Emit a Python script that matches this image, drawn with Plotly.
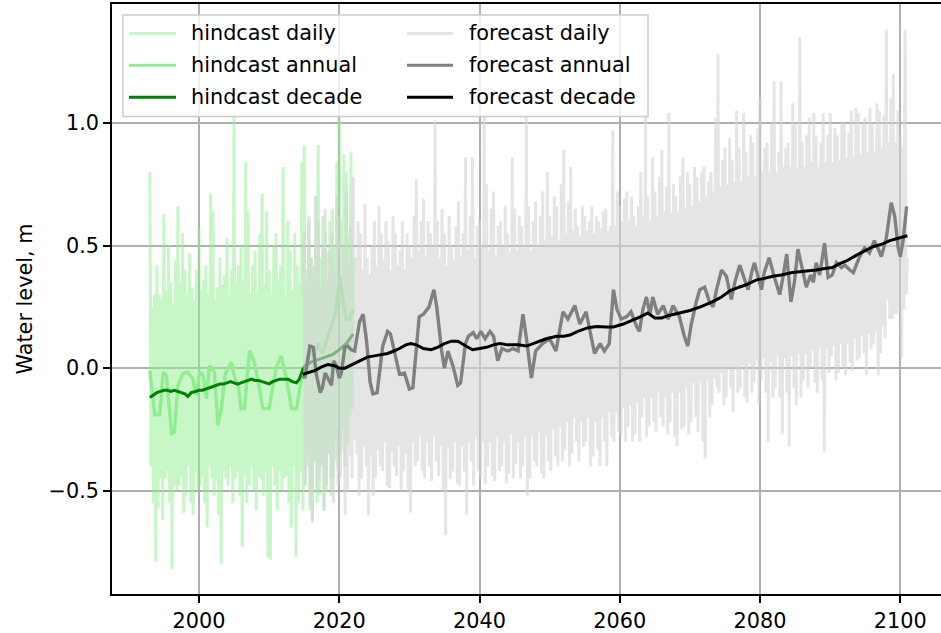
import numpy as np
import plotly.graph_objects as go

# ---------------- data ----------------
# daily series: high / low excursions, 6 samples per year
hind_daily_start = 1993.0
hind_daily = [
    0.80, -0.40, 0.25, -0.55, 0.30, -0.79,   # 1993
    0.42, -0.57, 0.30, -0.45, 0.28, -0.62,   # 1994
    0.63, -0.45, 0.32, -0.42, 0.50, -0.55,   # 1995
    0.35, -0.82, 0.26, -0.48, 0.44, -0.50,   # 1996
    0.66, -0.48, 0.35, -0.44, 0.55, -0.59,   # 1997
    0.40, -0.52, 0.30, -0.40, 0.47, -0.55,   # 1998
    0.33, -0.60, 0.28, -0.42, 0.40, -0.50,   # 1999
    0.57, -0.48, 0.32, -0.44, 0.36, -0.55,   # 2000
    0.42, -0.65, 0.30, -0.40, 0.71, -0.45,   # 2001
    0.64, -0.52, 0.28, -0.46, 0.33, -0.60,   # 2002
    0.45, -0.80, 0.34, -0.42, 0.38, -0.45,   # 2003
    0.53, -0.48, 0.30, -0.40, 0.40, -0.55,   # 2004
    1.05, -0.45, 0.35, -0.42, 0.42, -0.52,   # 2005
    0.50, -0.73, 0.36, -0.44, 0.84, -0.55,   # 2006
    0.64, -0.48, 0.30, -0.40, 0.42, -0.50,   # 2007
    0.48, -0.58, 0.32, -0.44, 0.55, -0.45,   # 2008
    0.71, -0.52, 0.34, -0.42, 0.64, -0.77,   # 2009
    0.40, -0.78, 0.30, -0.40, 0.50, -0.48,   # 2010
    0.55, -0.58, 0.36, -0.42, 0.42, -0.50,   # 2011
    0.82, -0.45, 0.30, -0.44, 0.60, -0.55,   # 2012
    0.48, -0.65, 0.32, -0.40, 0.55, -0.77,   # 2013
    0.42, -0.55, 0.35, -0.42, 0.84, -0.58,   # 2014
    0.91, -0.48, 0.40, -0.40, 0.60, -0.58,   # 2015
    0.45, -0.62, 0.42, -0.38, 0.70, -0.55,   # 2016
    0.91, -0.52, 0.45, -0.40, 0.62, -0.58,   # 2017
    0.55, -0.48, 0.48, -0.35, 0.60, -0.52,   # 2018
    0.65, -0.45, 0.50, -0.30, 0.84, -0.42,   # 2019
    1.02, -0.35, 0.60, -0.25, 0.87, -0.40,   # 2020
    0.80, -0.31, 0.55, -0.20, 0.88, -0.17,   # 2021
    0.45,                                    # 2022
]

fore_daily_end = 2101.0
fore_daily = [
    0.30,
    0.55, -0.48, 0.35, -0.35, 0.62, -0.55,   # 2015
    0.45, -0.63, 0.38, -0.38, 0.70, -0.50,   # 2016
    0.60, -0.45, 0.33, -0.40, 0.50, -0.58,   # 2017
    0.65, -0.50, 0.36, -0.35, 0.48, -0.45,   # 2018
    0.55, -0.55, 0.40, -0.38, 0.70, -0.48,   # 2019
    0.62, -0.45, 0.38, -0.34, 0.50, -0.60,   # 2020
    0.72, -0.50, 0.42, -0.36, 0.58, -0.45,   # 2021
    0.78, -0.29, 0.45, -0.35, 0.60, -0.52,   # 2022
    0.55, -0.45, 0.40, -0.32, 0.67, -0.40,   # 2023
    0.45, -0.60, 0.38, -0.36, 0.50, -0.52,   # 2024
    0.60, -0.45, 0.42, -0.33, 0.66, -0.40,   # 2025
    0.55, -0.42, 0.44, -0.30, 0.60, -0.48,   # 2026
    0.52, -0.49, 0.40, -0.34, 0.62, -0.40,   # 2027
    0.55, -0.44, 0.42, -0.32, 0.48, -0.50,   # 2028
    0.60, -0.42, 0.40, -0.35, 0.55, -0.50,   # 2029
    0.50, -0.59, 0.45, -0.30, 0.62, -0.40,   # 2030
    0.77, -0.38, 0.48, -0.28, 0.60, -0.42,   # 2031
    0.69, -0.45, 0.46, -0.30, 0.60, -0.40,   # 2032
    0.55, -0.46, 0.50, -0.28, 1.01, -0.38,   # 2033
    0.60, -0.44, 0.45, -0.32, 0.65, -0.50,   # 2034
    0.55, -0.68, 0.42, -0.33, 0.62, -0.45,   # 2035
    0.50, -0.42, 0.44, -0.30, 0.58, -0.47,   # 2036
    0.68, -0.48, 0.46, -0.32, 0.55, -0.42,   # 2037
    0.86, -0.60, 0.48, -0.30, 0.62, -0.38,   # 2038
    0.86, -0.48, 0.45, -0.28, 0.58, -0.42,   # 2039
    0.60, -0.45, 0.50, -0.30, 1.03, -0.47,   # 2040
    0.75, -0.40, 0.48, -0.30, 0.65, -0.44,   # 2041
    0.72, -0.46, 0.46, -0.28, 0.58, -0.42,   # 2042
    0.60, -0.40, 0.50, -0.30, 0.66, -0.47,   # 2043
    0.55, -0.43, 0.47, -0.27, 0.86, -0.45,   # 2044
    0.65, -0.39, 0.48, -0.30, 0.62, -0.45,   # 2045
    0.58, -0.40, 0.50, -0.28, 1.03, -0.52,   # 2046
    0.66, -0.45, 0.48, -0.28, 0.60, -0.38,   # 2047
    0.68, -0.40, 0.50, -0.26, 0.62, -0.43,   # 2048
    0.72, -0.45, 0.52, -0.28, 0.80, -0.38,   # 2049
    0.62, -0.42, 0.54, -0.25, 0.70, -0.36,   # 2050
    0.66, -0.40, 0.52, -0.24, 0.75, -0.38,   # 2051
    0.89, -0.33, 0.55, -0.22, 0.68, -0.40,   # 2052
    0.82, -0.35, 0.56, -0.20, 0.65, -0.30,   # 2053
    0.58, -0.38, 0.54, -0.22, 0.66, -0.32,   # 2054
    0.62, -0.30, 0.56, -0.20, 0.60, -0.40,   # 2055
    0.66, -0.36, 0.55, -0.22, 0.62, -0.33,   # 2056
    0.60, -0.40, 0.57, -0.20, 0.64, -0.30,   # 2057
    0.65, -0.40, 0.56, -0.18, 0.58, -0.28,   # 2058
    0.97, -0.30, 0.58, -0.18, 0.72, -0.26,   # 2059
    0.66, -0.28, 0.60, -0.16, 0.69, -0.30,   # 2060
    0.72, -0.24, 0.60, -0.15, 0.70, -0.30,   # 2061
    0.62, -0.27, 0.58, -0.14, 0.66, -0.30,   # 2062
    0.80, -0.20, 0.62, -0.12, 1.03, -0.28,   # 2063
    0.70, -0.24, 0.60, -0.12, 0.86, -0.22,   # 2064
    0.72, -0.26, 0.62, -0.10, 0.78, -0.20,   # 2065
    0.89, -0.24, 0.64, -0.12, 0.74, -0.27,   # 2066
    1.04, -0.22, 0.63, -0.10, 0.75, -0.28,   # 2067
    0.70, -0.32, 0.64, -0.10, 0.78, -0.25,   # 2068
    0.86, -0.24, 0.65, -0.08, 0.80, -0.27,   # 2069
    0.75, -0.22, 0.66, -0.06, 0.82, -0.20,   # 2070
    0.78, -0.26, 0.68, -0.06, 0.80, -0.30,   # 2071
    0.82, -0.37, 0.70, -0.05, 0.76, -0.20,   # 2072
    0.80, -0.15, 0.72, -0.04, 1.02, -0.08,   # 2073
    1.28, -0.10, 0.74, -0.02, 0.85, -0.15,   # 2074
    0.90, -0.12, 0.75, 0.00, 0.94, -0.08,    # 2075
    0.85, -0.18, 0.76, 0.00, 1.05, -0.10,    # 2076
    0.90, -0.08, 0.76, 0.01, 1.04, -0.12,    # 2077
    0.88, -0.14, 0.78, 0.02, 0.95, -0.10,    # 2078
    0.92, -0.06, 0.78, 0.03, 0.98, -0.15,    # 2079
    1.10, -0.05, 0.80, 0.04, 0.90, -0.10,    # 2080
    0.92, -0.30, 0.80, 0.03, 1.00, -0.12,    # 2081
    1.17, -0.08, 0.80, 0.05, 0.88, -0.12,    # 2082
    1.17, -0.27, 0.82, 0.04, 0.90, -0.10,    # 2083
    0.92, -0.32, 0.82, 0.05, 1.08, -0.08,    # 2084
    1.00, -0.15, 0.82, 0.06, 1.35, -0.12,    # 2085
    0.92, -0.05, 0.82, 0.06, 0.95, -0.08,    # 2086
    1.02, 0.00, 0.84, 0.07, 1.04, -0.06,     # 2087
    0.95, -0.10, 0.82, 0.08, 0.92, -0.05,    # 2088
    1.04, -0.34, 0.84, 0.08, 0.95, -0.02,    # 2089
    1.04, 0.05, 0.84, 0.09, 0.98, -0.05,     # 2090
    0.95, -0.02, 0.85, 0.10, 1.00, 0.00,     # 2091
    1.00, -0.03, 0.86, 0.10, 0.96, 0.02,     # 2092
    1.05, -0.01, 0.86, 0.12, 1.06, 0.03,     # 2093
    1.04, 0.04, 0.87, 0.13, 1.00, 0.06,      # 2094
    1.02, -0.03, 0.88, 0.14, 1.06, 0.08,     # 2095
    1.00, 0.10, 0.88, 0.15, 1.08, -0.03,     # 2096
    1.05, 0.06, 0.90, 0.17, 1.03, 0.12,      # 2097
    1.38, 0.28, 0.92, 0.20, 1.10, 0.20,      # 2098
    1.20, 0.22, 0.92, 0.22, 1.05, 0.25,      # 2099
    0.95, 0.04, 0.90, 0.24, 1.38, 0.30,      # 2100
    0.45,                                    # 2101
]

hind_annual_t = [1993.0, 1993.45, 1993.7, 1994.4, 1994.9, 1995.35, 1995.8, 1996.1, 1996.5,
                 1997.0, 1997.7, 1998.4, 1999.1, 1999.6, 2000.1, 2000.6, 2001.05, 2001.5,
                 2002.2, 2002.7, 2003.2, 2003.7, 2004.1, 2004.6, 2005.1, 2005.6, 2006.0,
                 2006.5, 2007.2, 2007.9, 2008.6, 2009.1, 2010.0, 2010.55, 2011.0, 2011.7,
                 2012.5, 2013.2, 2013.9, 2014.6, 2015.2, 2015.8, 2016.4, 2017.0, 2017.6,
                 2018.3, 2018.9, 2019.4, 2019.8, 2020.1, 2020.5, 2021.0, 2021.5, 2022.0]
hind_annual = [-0.01, -0.11, -0.19, -0.19, -0.016, -0.03, -0.165, -0.267, -0.26,
               -0.07, -0.023, -0.016, -0.043, -0.11, -0.016, -0.03, -0.125, 0.01,
               -0.016, -0.233, -0.165, -0.03, -0.003, 0.024, -0.04, -0.07, -0.165,
               -0.165, 0.072, 0.024, -0.08, -0.165, -0.165, -0.08, 0.0, 0.05,
               -0.044, -0.165, -0.165, -0.044, 0.02, 0.08, 0.05, 0.10, 0.06,
               0.12, 0.18, 0.22, 0.30, 0.37, 0.28, 0.20, 0.20, 0.24]

hind_decade_t = [1993.0, 1993.5, 1994.0, 1994.5, 1995.0, 1995.5, 1996.0, 1996.5, 1997.0,
                 1997.5, 1998.0, 1998.4, 1998.9, 1999.5, 2000.0, 2000.5, 2001.0, 2001.5,
                 2002.0, 2002.5, 2003.0, 2003.5, 2004.0, 2004.5, 2005.0, 2005.5, 2006.0,
                 2006.5, 2007.0, 2007.5, 2008.0, 2008.5, 2009.0, 2009.5, 2010.0, 2010.5,
                 2011.0, 2011.5, 2012.0, 2012.7, 2013.3, 2013.9, 2014.3, 2014.6, 2014.8,
                 2015.2, 2016.0, 2017.0, 2018.0, 2019.0, 2020.0, 2021.0, 2022.0]
hind_decade = [-0.12, -0.11, -0.10, -0.095, -0.09, -0.09, -0.095, -0.09, -0.095,
               -0.10, -0.105, -0.115, -0.10, -0.095, -0.09, -0.09, -0.085, -0.08,
               -0.075, -0.07, -0.065, -0.065, -0.06, -0.055, -0.06, -0.065, -0.06,
               -0.055, -0.05, -0.045, -0.05, -0.05, -0.055, -0.06, -0.064, -0.055,
               -0.05, -0.045, -0.045, -0.045, -0.055, -0.06, -0.045, -0.02, -0.005,
               0.01, 0.025, 0.035, 0.045, 0.055, 0.075, 0.10, 0.14]

fore_annual_t = [2014.8, 2015.1, 2015.5, 2015.8, 2016.3, 2016.7, 2017.3, 2017.6, 2018.0,
                 2018.4, 2018.9, 2019.2, 2019.6, 2020.0, 2020.3, 2020.8, 2021.2, 2021.7,
                 2022.2, 2022.9, 2023.4, 2023.9, 2024.4, 2024.8, 2025.4, 2026.2, 2026.9,
                 2027.3, 2027.8, 2028.6, 2029.3, 2030.0, 2030.5, 2031.4, 2032.0, 2032.8,
                 2033.5, 2033.9, 2034.6, 2035.0, 2035.5, 2036.2, 2036.9, 2037.3, 2038.0,
                 2038.4, 2039.1, 2039.6, 2040.2, 2040.8, 2041.5, 2042.0, 2042.6, 2043.2,
                 2044.0, 2044.8, 2045.5, 2046.2, 2046.7, 2047.4, 2048.0, 2049.0, 2050.0,
                 2050.9, 2051.9, 2052.6, 2053.6, 2054.3, 2055.2, 2055.8, 2056.4, 2057.2,
                 2057.8, 2058.5, 2059.1, 2059.6, 2060.2, 2061.0, 2061.6, 2062.4, 2062.8,
                 2063.3, 2063.8, 2064.3, 2064.7, 2065.4, 2066.2, 2066.9, 2067.6, 2068.5,
                 2069.2, 2069.7, 2070.2, 2070.9, 2071.4, 2072.1, 2072.8, 2073.3, 2073.8,
                 2074.5, 2075.2, 2075.9, 2076.4, 2077.1, 2077.8, 2078.3, 2078.8, 2079.2,
                 2079.7, 2080.2, 2080.6, 2081.3, 2082.0, 2082.8, 2083.2, 2083.8, 2084.4,
                 2084.9, 2085.4, 2085.9,
                 2086.6, 2087.2, 2087.6, 2088.0, 2088.5, 2089.2, 2089.7, 2090.3, 2090.9,
                 2091.6, 2092.1, 2092.8, 2093.3, 2094.2, 2094.9, 2095.6, 2096.3, 2096.8,
                 2097.3, 2098.0, 2098.7, 2099.2, 2099.7, 2100.0, 2100.4, 2100.9]
fore_annual = [-0.03, -0.04, 0.03, 0.09, 0.085, -0.02, -0.10, -0.08, -0.02,
               -0.04, -0.07, 0.03, 0.01, -0.04, -0.02, 0.085, 0.09, 0.075,
               0.07, 0.19, 0.22, 0.11, -0.056, -0.105, -0.10, 0.09, 0.15,
               0.14, 0.07, -0.025, -0.02, -0.085, -0.08, 0.21, 0.22, 0.25,
               0.32, 0.25, 0.07, 0.0, 0.07, 0.01, -0.07, -0.06, 0.10,
               0.13, 0.145, 0.12, 0.15, 0.12, 0.15, 0.13, 0.03, 0.08,
               0.07, 0.08, 0.07, 0.22, 0.12, -0.04, 0.07, 0.10, 0.12,
               0.07, 0.23, 0.20, 0.255, 0.18, 0.23, 0.14, 0.06, 0.10,
               0.07, 0.10, 0.32, 0.24, 0.20, 0.21, 0.23, 0.17, 0.15,
               0.24, 0.29, 0.22, 0.29, 0.22, 0.255, 0.20, 0.255, 0.21,
               0.13, 0.09, 0.18, 0.27, 0.32, 0.33, 0.27, 0.25, 0.32,
               0.40, 0.375, 0.28, 0.35, 0.42, 0.36, 0.32, 0.39, 0.43,
               0.375, 0.32, 0.39, 0.45, 0.375, 0.30, 0.36, 0.465, 0.27,
               0.35, 0.485, 0.42,
               0.33, 0.38, 0.35, 0.43, 0.38, 0.51, 0.37, 0.38, 0.43,
               0.41, 0.42, 0.40, 0.39, 0.455, 0.49, 0.47, 0.52, 0.49,
               0.455, 0.53, 0.675, 0.62, 0.49, 0.455, 0.52, 0.66]

fore_decade_t = [2014.8, 2015.5, 2016.5, 2017.5, 2018.4, 2019.3, 2020.0, 2020.8, 2021.5,
                 2022.2, 2023.0, 2024.0, 2025.0, 2026.0, 2026.9, 2027.8, 2028.6, 2029.5,
                 2030.2, 2031.0, 2032.0, 2033.1, 2034.0, 2035.0, 2036.0, 2036.9, 2038.0,
                 2039.0, 2040.0, 2041.0, 2042.0, 2042.9, 2044.0, 2045.5, 2046.7, 2048.0,
                 2049.5, 2051.0, 2052.0, 2052.9, 2054.0, 2055.5, 2056.7, 2058.0, 2059.1,
                 2060.5, 2061.9, 2063.0, 2064.0, 2065.0, 2066.0, 2067.0, 2068.5, 2070.0,
                 2071.5, 2073.2, 2074.5, 2075.7, 2077.0, 2078.0, 2079.5, 2080.5, 2081.8,
                 2083.0, 2084.6, 2086.6, 2088.0, 2089.0, 2090.3, 2091.3, 2092.5, 2093.7,
                 2095.0, 2096.1, 2097.3, 2098.5, 2099.7, 2101.0]
fore_decade = [-0.025, -0.02, -0.01, 0.005, 0.015, 0.01, 0.0, 0.0, 0.01,
               0.02, 0.03, 0.045, 0.05, 0.055, 0.06, 0.07, 0.08, 0.095,
               0.10, 0.095, 0.08, 0.075, 0.085, 0.10, 0.11, 0.11, 0.09,
               0.075, 0.08, 0.085, 0.095, 0.10, 0.095, 0.095, 0.09, 0.105,
               0.12, 0.13, 0.13, 0.135, 0.15, 0.165, 0.17, 0.168, 0.168,
               0.18, 0.195, 0.21, 0.225, 0.205, 0.205, 0.215, 0.225, 0.235,
               0.25, 0.27, 0.29, 0.315, 0.33, 0.34, 0.36, 0.365, 0.375,
               0.38, 0.39, 0.395, 0.40, 0.405, 0.41, 0.425, 0.44, 0.46,
               0.48, 0.495, 0.505, 0.52, 0.53, 0.54]

x_ticks = [2000, 2020, 2040, 2060, 2080, 2100]
y_ticks = [-0.5, 0.0, 0.5, 1.0]
y_title = "Water level, m"

# ---------------- styling ----------------
C_HD = "rgba(144,238,144,0.5)"   # hindcast daily
C_HA = "#90ee90"                 # hindcast annual
C_HDEC = "#008000"               # hindcast decade
C_FD = "rgba(211,211,211,0.6)"   # forecast daily
C_FA = "#808080"                 # forecast annual
C_FDEC = "#000000"               # forecast decade
FONT = "DejaVu Sans"
FS = 20.8
W, H = 941, 633
ML, MR, MT, MB = 112, 0, 4, 37
PW, PH = W - ML - MR, H - MT - MB

step = 1.0 / 6.0
hind_daily_t = hind_daily_start + step * np.arange(len(hind_daily))
fore_daily_t = fore_daily_end - step * np.arange(len(fore_daily))[::-1]

fig = go.Figure()
series = [
    ("hindcast daily", hind_daily_t, hind_daily, C_HD, 3),
    ("hindcast annual", hind_annual_t, hind_annual, C_HA, 3.4),
    ("hindcast decade", hind_decade_t, hind_decade, C_HDEC, 3),
    ("forecast daily", fore_daily_t, fore_daily, C_FD, 3),
    ("forecast annual", fore_annual_t, fore_annual, C_FA, 3.4),
    ("forecast decade", fore_decade_t, fore_decade, C_FDEC, 3),
]
for name, xs, ys, col, lw in series:
    fig.add_trace(go.Scatter(x=list(xs), y=ys, mode="lines", name=name,
                             line=dict(color=col, width=lw), showlegend=False,
                             hoverinfo="skip"))

# ---------------- legend (drawn as box + handles + text) ----------------
def px_x(p):
    return (p - ML) / PW

def px_y(p):
    return (H - MB - p) / PH

shapes = [dict(type="rect", xref="paper", yref="paper", layer="above",
               x0=px_x(123), x1=px_x(648), y0=px_y(117), y1=px_y(15),
               fillcolor="rgba(255,255,255,0.8)", line=dict(color="#cccccc", width=1.5))]
annotations = []
rows_y = [33.5, 65.5, 97.5]
cols = [(129, 176, 189), (407, 453, 467)]
legend_layout = [
    [series[0], series[1], series[2]],
    [series[3], series[4], series[5]],
]
for ci, col_items in enumerate(legend_layout):
    hx0, hx1, tx = cols[ci]
    for ri, (name, _, _, col, _) in enumerate(col_items):
        yy = px_y(rows_y[ri])
        shapes.append(dict(type="line", xref="paper", yref="paper", layer="above",
                           x0=px_x(hx0), x1=px_x(hx1), y0=yy, y1=yy,
                           line=dict(color=col, width=3)))
        annotations.append(dict(text=name, xref="paper", yref="paper",
                                x=px_x(tx), y=yy, xanchor="left", yanchor="middle",
                                showarrow=False, font=dict(family=FONT, size=FS, color="black")))

fig.update_layout(
    width=W, height=H,
    margin=dict(l=ML, r=MR, t=MT, b=MB, pad=0),
    paper_bgcolor="white", plot_bgcolor="white",
    font=dict(family=FONT, size=FS, color="black"),
    shapes=shapes, annotations=annotations,
    showlegend=False,
)
fig.update_xaxes(range=[1987.6, 2105.8], tickvals=x_ticks, ticks="outside", ticklen=7,
                 tickwidth=1.6, tickcolor="black", showgrid=True, gridcolor="#b0b0b0",
                 gridwidth=1.6, showline=True, linecolor="black", linewidth=1.6,
                 mirror=True, zeroline=False, tickfont=dict(family=FONT, size=FS, color="black"))
fig.update_yaxes(range=[-0.921, 1.485], tickvals=y_ticks, tickformat=".1f", ticks="outside",
                 ticklen=7, tickwidth=1.6, tickcolor="black", showgrid=True,
                 gridcolor="#b0b0b0", gridwidth=1.6, showline=True, linecolor="black",
                 linewidth=1.6, mirror=False, zeroline=False,
                 tickfont=dict(family=FONT, size=FS, color="black"),
                 title=dict(text=y_title, font=dict(family=FONT, size=FS, color="black"),
                            standoff=10))

fig.write_html("out.html")
